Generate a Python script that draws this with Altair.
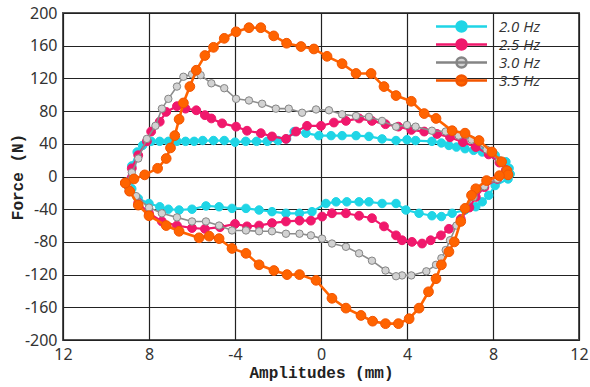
import altair as alt
import pandas as pd

series = ["2.0 Hz", "2.5 Hz", "3.0 Hz", "3.5 Hz"]
line_colors = ["#1FD5E6", "#F0186C", "#8C8C8C", "#FF6300"]
fill_colors = ["#1FD5E6", "#F0186C", "#D2D2D2", "#FF6300"]
stroke_colors = ["#1FD5E6", "#F0186C", "#858585", "#F25500"]

x_ticks = [-12, -8, -4, 0, 4, 8, 12]
y_ticks = [-200, -160, -120, -80, -40, 0, 40, 80, 120, 160, 200]

# 2.0 Hz
cyan_x = [-8.9, -8.8, -8.55, -8.3, -7.9, -7.5, -7.1, -6.7, -6.3, -5.9, -5.5, -5.0, -4.5, -4.0, -3.5, -3.0, -2.5, -2.0, -1.6,
          -1.25, -0.7, -0.1, 0.47, 0.98, 1.63, 2.23, 2.84, 3.49, 4.0, 4.4, 5.16, 5.6, 5.95, 6.3, 6.7, 7.1, 7.5, 8.1, 8.6, 8.75, 8.8,
          8.7, 8.1, 7.8, 7.5, 7.2, 6.7, 6.1, 5.6, 5.16, 4.56, 3.95, 3.49, 2.84, 2.23, 1.77, 1.2, 0.7, 0.23, -0.42, -1.0, -1.63,
          -2.28, -2.88, -3.49, -4.14, -4.74, -5.35, -6.0, -6.6, -7.1, -7.5, -8.0, -8.5, -8.8, -8.9]
cyan_y = [-5, 13, 30, 38, 43, 43, 43, 43, 43, 43, 44, 44, 44, 42, 43, 43, 43, 44, 46,
          55, 53, 50, 50, 50, 50, 49, 46, 44, 45, 44, 43, 41, 38, 36, 34, 32, 30, 26, 18, 10, 3,
          -3, -11, -23, -31, -37, -41, -45, -49, -48, -45, -41, -33, -33, -31, -31, -31, -31, -33, -43, -45, -45,
          -43, -41, -39, -39, -37, -36, -40, -41, -40, -37, -33, -27, -15, -5]

# 2.5 Hz
pink_x = [-9.1, -8.8, -8.5, -8.1, -7.9, -7.5, -7.2, -6.7, -6.3, -5.8, -5.4, -5.1, -4.6, -3.95, -3.44, -2.8, -2.28, -1.63,
          -1.16, -0.65, 0.0, 0.6, 1.16, 1.77, 2.37, 3.0, 3.6, 4.2, 4.8, 5.4, 6.0, 6.6, 7.2, 7.8, 8.3, 8.6, 8.7,
          8.2, 7.6, 7.2, 6.9, 6.5, 5.95, 5.58, 5.1, 4.7, 4.23, 3.77, 3.49, 2.93, 2.37, 1.77, 1.16, 0.51, 0.05, -0.47, -1.0,
          -1.63, -2.28, -2.88, -3.44, -4.0, -4.7, -5.4, -6.0, -6.7, -7.4, -8.0, -8.5, -8.9, -9.1]
pink_y = [-8, 10, 26, 43, 55, 67, 79, 86, 83, 81, 75, 71, 65, 61, 56, 53, 49, 46,
          55, 62, 62, 66, 68, 71, 68, 64, 61, 57, 55, 52, 48, 42, 36, 27, 17, 8, 2,
          -3, -13, -25, -38, -52, -64, -72, -78, -82, -80, -78, -72, -61, -51, -48, -45, -45, -49, -54, -54,
          -55, -57, -60, -61, -58, -62, -64, -63, -60, -55, -45, -32, -18, -8]

# 3.0 Hz
gray_x = [-9.1, -8.8, -8.5, -8.1, -7.7, -7.4, -7.1, -6.7, -6.4, -6.0, -5.6, -5.1, -4.5, -3.95, -3.35, -2.74, -2.1, -1.5,
          -0.88, -0.23, 0.37, 0.98, 1.63, 2.23, 2.84, 3.49, 4.0, 4.4, 5.16, 5.8, 6.4, 7.0, 7.7, 8.3, 8.6, 8.7,
          8.2, 7.6, 7.1, 6.7, 6.3, 6.0, 5.8, 5.6, 5.35, 4.9, 4.2, 3.77, 3.49, 3.0, 2.37, 1.77, 1.16, 0.51, 0.05, -0.47,
          -1.0, -1.63, -2.28, -2.88, -3.49, -4.14, -4.74, -5.35, -6.0, -6.7, -7.4, -8.0, -8.6, -9.0, -9.1]
gray_y = [-8, 5, 22, 46, 62, 83, 95, 110, 122, 125, 124, 114, 108, 95, 93, 89, 83, 83,
          78, 82, 81, 76, 74, 73, 68, 61, 63, 61, 56, 55, 50, 45, 33, 20, 8, 2,
          -3, -12, -25, -40, -60, -78, -90, -100, -108, -116, -121, -121, -122, -115, -103, -94, -86, -82, -76, -72,
          -70, -70, -67, -67, -66, -66, -60, -55, -55, -50, -45, -38, -24, -12, -8]

# 3.5 Hz
orange_x = [-9.1, -8.7, -8.2, -7.6, -7.2, -7.0, -6.8, -6.6, -6.4, -6.1, -5.8, -5.4, -5.0, -4.5, -3.95, -3.35, -2.8, -2.2,
            -1.6, -0.93, -0.33, 0.28, 0.98, 1.63, 2.33, 2.93, 3.49, 4.2, 4.8, 5.35, 6.1, 6.7, 7.35, 7.95, 8.4, 8.65, 8.7,
            8.3, 7.7, 7.2, 7.0, 6.7, 6.5, 6.2, 5.95, 5.6, 5.35, 5.0, 4.56, 4.1, 3.6, 3.0, 2.4, 1.86, 1.16, 0.51, -0.23,
            -1.0, -1.58, -2.19, -2.88, -3.49, -4.14, -4.74, -5.2, -5.67, -6.6, -7.2, -8.0, -8.5, -8.9, -9.1]
orange_y = [-8, -3, 2, 10, 22, 35, 50, 70, 90, 110, 130, 148, 158, 169, 177, 182, 182, 172,
            163, 159, 156, 147, 138, 126, 126, 110, 99, 92, 77, 71, 56, 53, 44, 30, 18, 7, 2,
            1, -5, -15, -23, -39, -55, -80, -92, -108, -125, -141, -161, -174, -180, -180, -177, -170, -161, -149, -127,
            -120, -120, -115, -108, -94, -88, -76, -73, -75, -67, -60, -48, -35, -18, -8]

all_x = [cyan_x, pink_x, gray_x, orange_x]
all_y = [cyan_y, pink_y, gray_y, orange_y]

rows = []
for s, xs, ys in zip(series, all_x, all_y):
    for i, (xv, yv) in enumerate(zip(xs, ys)):
        rows.append({"series": s, "x": xv, "y": yv, "order": i})
df = pd.DataFrame(rows)

line_widths = [2.2, 2.2, 1.6, 2.6]
point_sizes = [72, 78, 55, 95]

xenc = alt.X("x:Q", scale=alt.Scale(domain=[-12, 12], nice=False),
             axis=alt.Axis(values=x_ticks, title="Amplitudes (mm)", labelFlush=False,
                           labelExpr="datum.value <= -8 ? format(-datum.value, 'd') : replace(datum.label, '\u2212', '-')"))
yenc = alt.Y("y:Q", scale=alt.Scale(domain=[-200, 200], nice=False),
             axis=alt.Axis(values=y_ticks, title="Force (N)", labelFlush=False,
                           labelExpr="replace(datum.label, '\u2212', '-')"))

legend = alt.Legend(
    title=None, orient="none", legendX=391, legendY=6,
    symbolType="M-5.1,0H5.1M1,0A1,1,0,1,1,-1,0A1,1,0,1,1,1,0Z",
    symbolSize=100, symbolStrokeWidth=2.5, symbolOpacity=1, labelOffset=30,
    labelFont="Open Sans", labelFontStyle="italic", labelFontSize=15, labelColor="#333333",
    rowPadding=-5, padding=0,
)

base = alt.Chart(df)
layers = []
for k, s in enumerate(series):
    sub = base.transform_filter(alt.datum.series == s)
    layers.append(
        sub.mark_line(strokeWidth=line_widths[k], color=line_colors[k]).encode(
            x=xenc, y=yenc, order="order:Q",
        )
    )
    layers.append(
        sub.mark_point(shape="circle", filled=True, size=point_sizes[k], strokeWidth=1, opacity=1).encode(
            x=xenc, y=yenc,
            fill=alt.Fill("series:N", scale=alt.Scale(domain=series, range=fill_colors), legend=legend),
            stroke=alt.Stroke("series:N", scale=alt.Scale(domain=series, range=stroke_colors), legend=legend),
        )
    )

chart = alt.layer(*layers).properties(
    width=516, height=327,
    autosize=alt.AutoSizeParams(type="none"),
    padding={"left": 63, "top": 13, "right": 11, "bottom": 47},
).configure_view(
    stroke="#555555", strokeWidth=2
).configure_axis(
    domain=False, ticks=False, labelPadding=6,
    grid=True, gridColor="#222222", gridWidth=1.2, gridOpacity=1,
    labelFont="Noto Sans", labelFontSize=16, labelColor="#333333",
    titleFont="Liberation Mono", titleFontWeight="bold", titleFontSize=16, titleColor="#222222",
).configure_axisX(titlePadding=2).configure_axisY(titlePadding=-1)

chart.save("out.html", embed_options={"renderer": "svg", "actions": False})
